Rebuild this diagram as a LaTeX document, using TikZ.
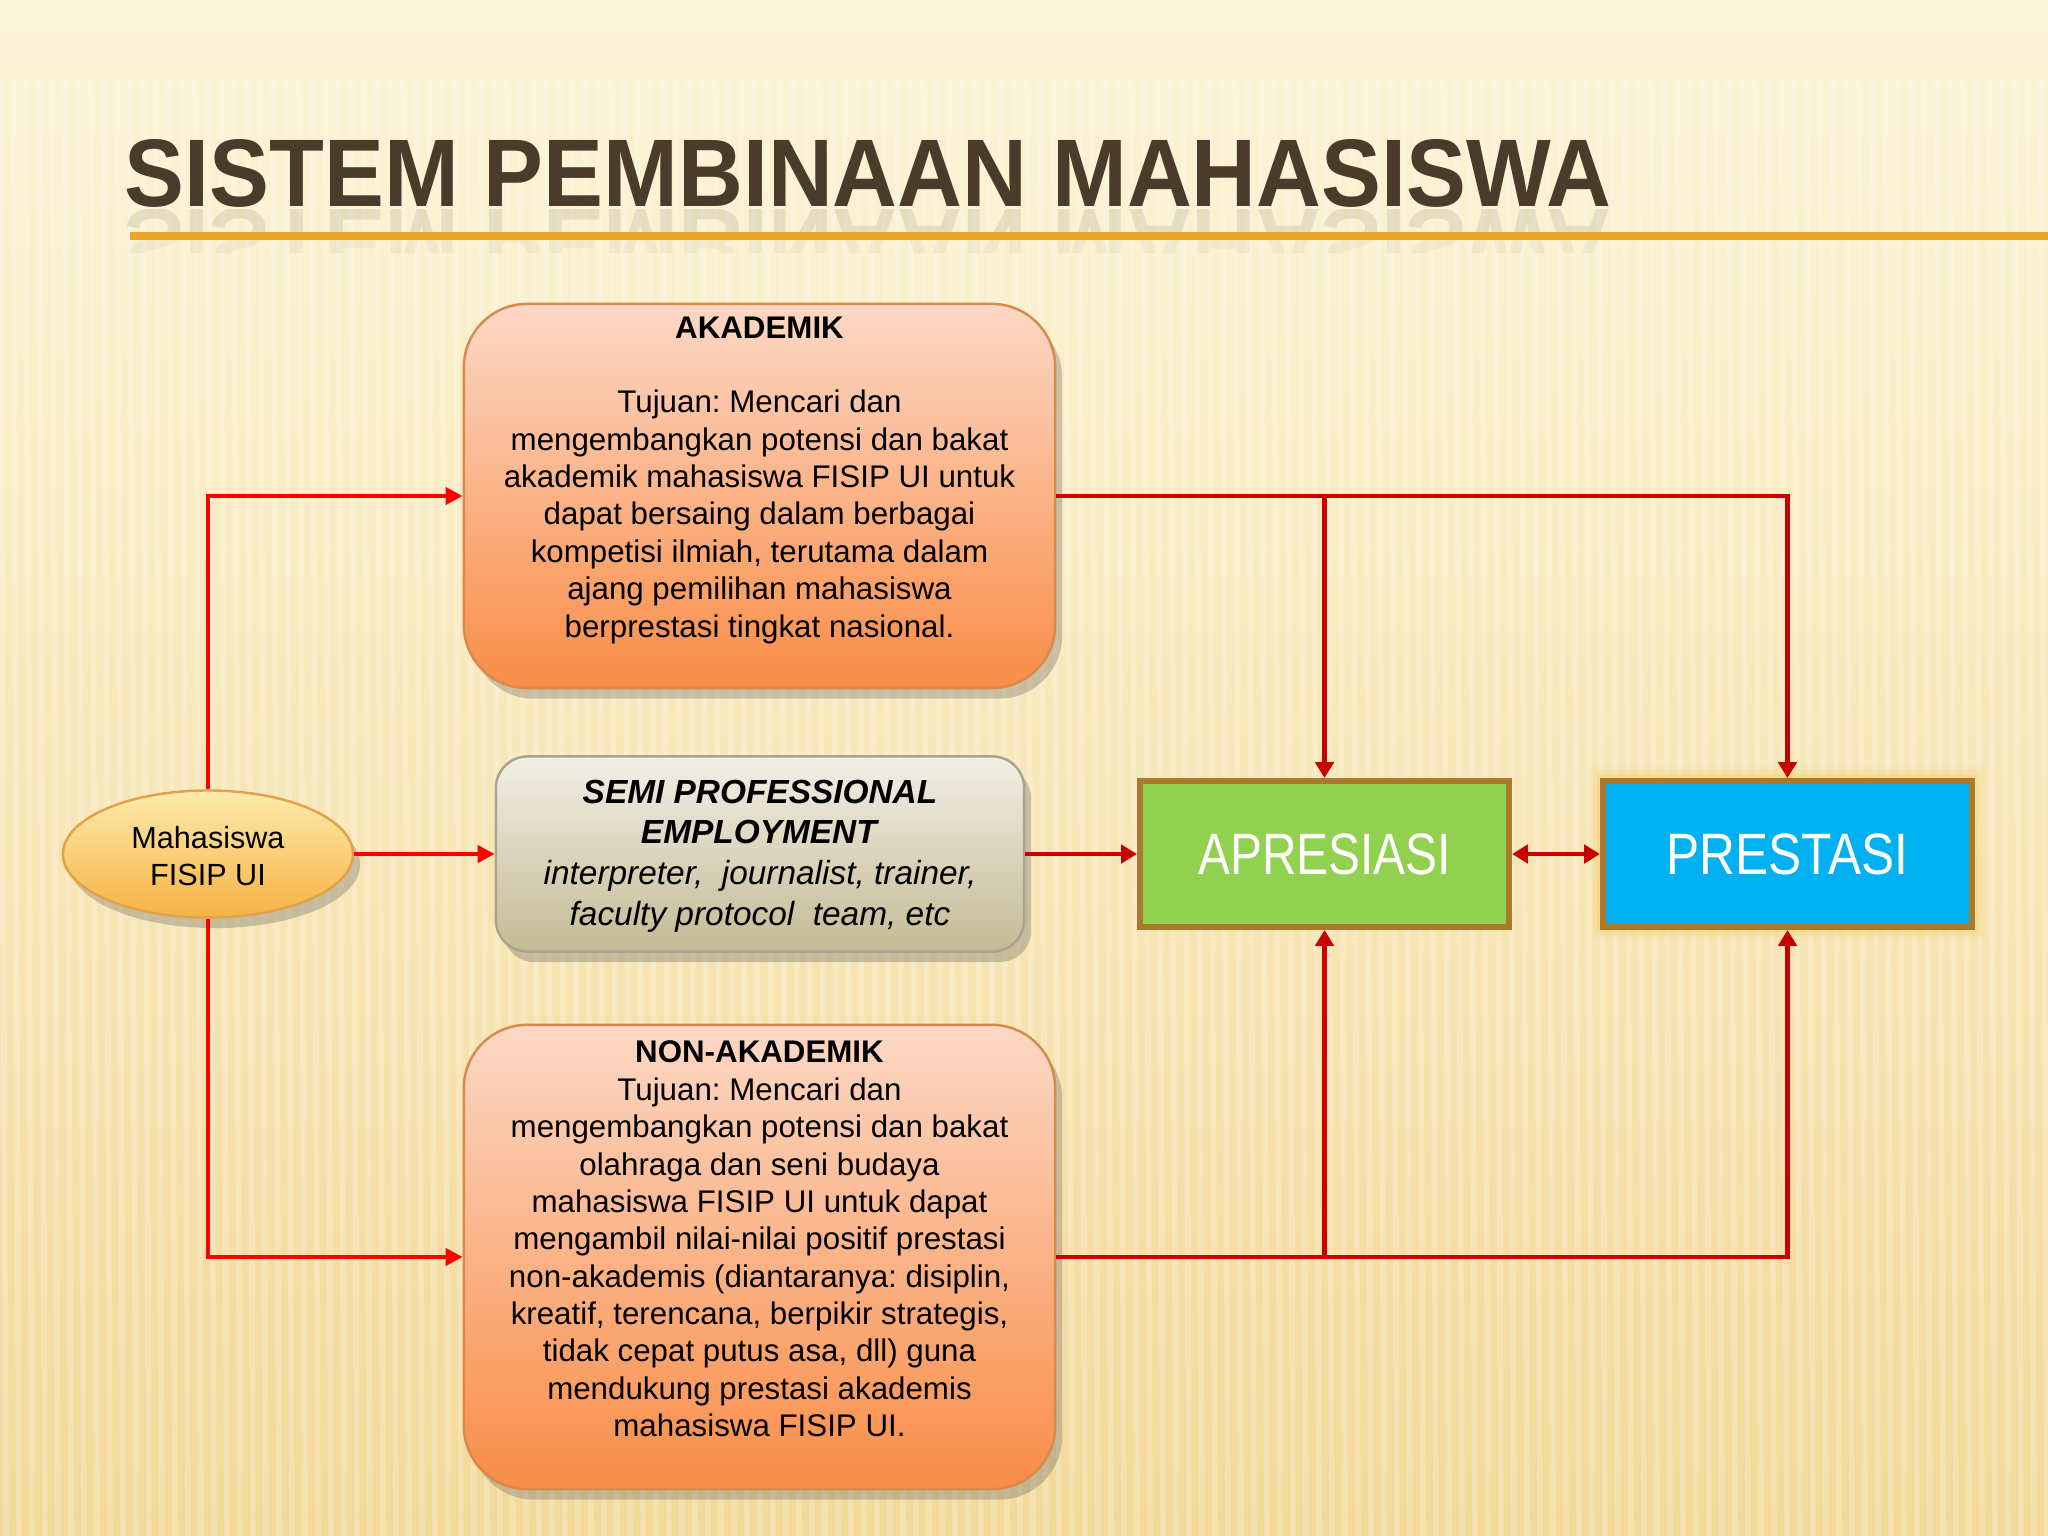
\documentclass[tikz,border=0pt]{standalone}
\usepackage{fontspec}
\setmainfont{Liberation Sans}
\usetikzlibrary{arrows.meta,shadows,shapes.geometric,calc}
\definecolor{bgtop}{HTML}{FDF5D8}
\definecolor{bgbot}{HTML}{F2D99A}
\definecolor{titlec}{HTML}{4A3B2B}
\definecolor{lineor}{HTML}{E8A52A}
\definecolor{orTop}{HTML}{FCD8C6}
\definecolor{orBot}{HTML}{F98D47}
\definecolor{orBorder}{HTML}{D88A4C}
\definecolor{semiTop}{HTML}{F1EFE6}
\definecolor{semiBot}{HTML}{C5BA94}
\definecolor{semiBorder}{HTML}{A8A492}
\definecolor{ellTop}{HTML}{FDEBAD}
\definecolor{ellBot}{HTML}{F6B243}
\definecolor{ellBorder}{HTML}{E3A24A}
\definecolor{apreFill}{HTML}{92D050}
\definecolor{presFill}{HTML}{00B0F0}
\definecolor{boxBorder}{HTML}{A97A2C}
\definecolor{glowc}{HTML}{F6C446}
\definecolor{redL}{HTML}{FF0000}
\definecolor{redD}{HTML}{C80000}
\tikzset{
  shadowed/.style={drop shadow={shadow xshift=2pt, shadow yshift=-3pt, opacity=0.3, fill=black!65}},
  orbox/.style={draw=orBorder, line width=0.7pt, rounded corners=18pt, top color=orTop, bottom color=orBot, minimum width=5.91cm, shadowed},
  semibox/.style={draw=semiBorder, line width=0.7pt, rounded corners=9pt, top color=semiTop, bottom color=semiBot, minimum width=5.28cm, minimum height=1.95cm, shadowed},
  ellbox/.style={ellipse, draw=ellBorder, line width=0.7pt, top color=ellTop, bottom color=ellBot, minimum width=2.9cm, minimum height=1.27cm, inner sep=0pt, shadowed},
  resbox/.style={draw=boxBorder, line width=1.7pt, minimum width=3.69cm, minimum height=1.46cm, text=white, font=\fontsize{16.6}{18}\selectfont},
  bodytxt/.style={align=center, inner sep=0pt, text=black, font=\fontsize{8.9}{10.63}\selectfont},
  semitxt/.style={align=center, inner sep=0pt, text=black, font=\fontsize{9.5}{11.6}\selectfont},
  conL/.style={draw=redL, line width=1.25pt, -{Triangle[length=4.8pt,width=4.8pt]}},
  conD/.style={draw=redD, line width=1.25pt, -{Triangle[length=4.5pt,width=5.2pt]}},
  titlefont/.style={font=\fontsize{27.3}{30}\selectfont\bfseries, text=titlec, inner sep=0pt}
}
\begin{document}
\frenchspacing
\begin{tikzpicture}[x=0.01cm,y=-0.01cm]
\useasboundingbox (0,0) rectangle (2048,1536);
% background
\shade[top color=bgtop, bottom color=bgbot] (0,0) rectangle (2048,1536);
\fill[bgtop, opacity=0.6] (0,0) rectangle (2048,70);
\foreach \i in {0,13,...,2048} {
  \draw[white, opacity=0.22, line width=1.6pt] (\i,80) -- (\i+6,1536);
}
% title
\node[titlefont, anchor=base west] (title) at (124,206) {\scalebox{0.935}[1]{SISTEM PEMBINAAN MAHASISWA}};
\begin{scope}
  \clip (0,209) rectangle (2048,236);
  \node[titlefont, anchor=base west, opacity=0.11] (titleref) at (124,209) {\scalebox{0.935}[-1]{SISTEM PEMBINAAN MAHASISWA}};
\end{scope}
\begin{scope}
  \clip (0,236) rectangle (2048,252);
  \node[titlefont, anchor=base west, opacity=0.05] (titleref2) at (124,209) {\scalebox{0.935}[-1]{SISTEM PEMBINAAN MAHASISWA}};
\end{scope}
\draw[lineor, line width=2.4pt] (130,236) -- (2048,236);

% glow around PRESTASI
\foreach \g/\o in {14/0.07, 10/0.12, 6/0.2, 3/0.3} {
  \fill[glowc, opacity=\o] (1603-\g,780-\g) rectangle (1972+\g,926+\g);
}

% nodes
\node[orbox, minimum height=3.84cm] (akad) at (759.5,496) {};
\node[bodytxt] (akadtxt) at (759.5,480) {\textbf{AKADEMIK}\\[10.63pt]
Tujuan: Mencari dan\\
mengembangkan potensi dan bakat\\
akademik mahasiswa FISIP UI untuk\\
dapat bersaing dalam berbagai\\
kompetisi ilmiah, terutama dalam\\
ajang pemilihan mahasiswa\\
berprestasi tingkat nasional.};

\node[semibox] (semi) at (760,854) {};
\node[semitxt] (semitxt) at (760,856) {\textbf{\textit{SEMI PROFESSIONAL}}\\
\textbf{\textit{EMPLOYMENT}}\\
\textit{interpreter,~ journalist, trainer,}\\
\textit{faculty protocol~ team, etc}};

\node[orbox, minimum height=4.64cm] (nonak) at (759.5,1257) {};
\node[bodytxt] (nonaktxt) at (759.5,1239) {\textbf{NON-AKADEMIK}\\
Tujuan: Mencari dan\\
mengembangkan potensi dan bakat\\
olahraga dan seni budaya\\
mahasiswa FISIP UI untuk dapat\\
mengambil nilai-nilai positif prestasi\\
non-akademis (diantaranya: disiplin,\\
kreatif, terencana, berpikir strategis,\\
tidak cepat putus asa, dll) guna\\
mendukung prestasi akademis\\
mahasiswa FISIP UI.};

\node[ellbox] (ell) at (208,854) {};
\node[bodytxt, font=\fontsize{8.7}{10.4}\selectfont] (elltxt) at (208,856) {Mahasiswa\\FISIP UI};

\node[resbox, fill=apreFill] (apre) at (1324.5,854) {\scalebox{0.82}[1]{APRESIASI}};
\node[resbox, fill=presFill] (pres) at (1787.5,854) {\scalebox{0.85}[1]{PRESTASI}};

% connectors from Mahasiswa
\draw[conL] (ell.north) |- (akad.west);
\draw[conL] (ell.south) |- (nonak.west);
\draw[conL] (ell.east) -- (semi.west);

% connectors to APRESIASI / PRESTASI
\coordinate (j1) at (akad.east -| apre.north);
\coordinate (j2) at (nonak.east -| apre.south);
\draw[conD] (akad.east) -| (pres.north);
\draw[conD] (j1) -- (apre.north);
\draw[conD] (nonak.east) -| (pres.south);
\draw[conD] (j2) -- (apre.south);
\draw[conD] (semi.east) -- (apre.west);
\draw[conD, {Triangle[length=4.5pt,width=5.2pt]}-{Triangle[length=4.5pt,width=5.2pt]}] (apre.east) -- (pres.west);
\end{tikzpicture}
\end{document}
